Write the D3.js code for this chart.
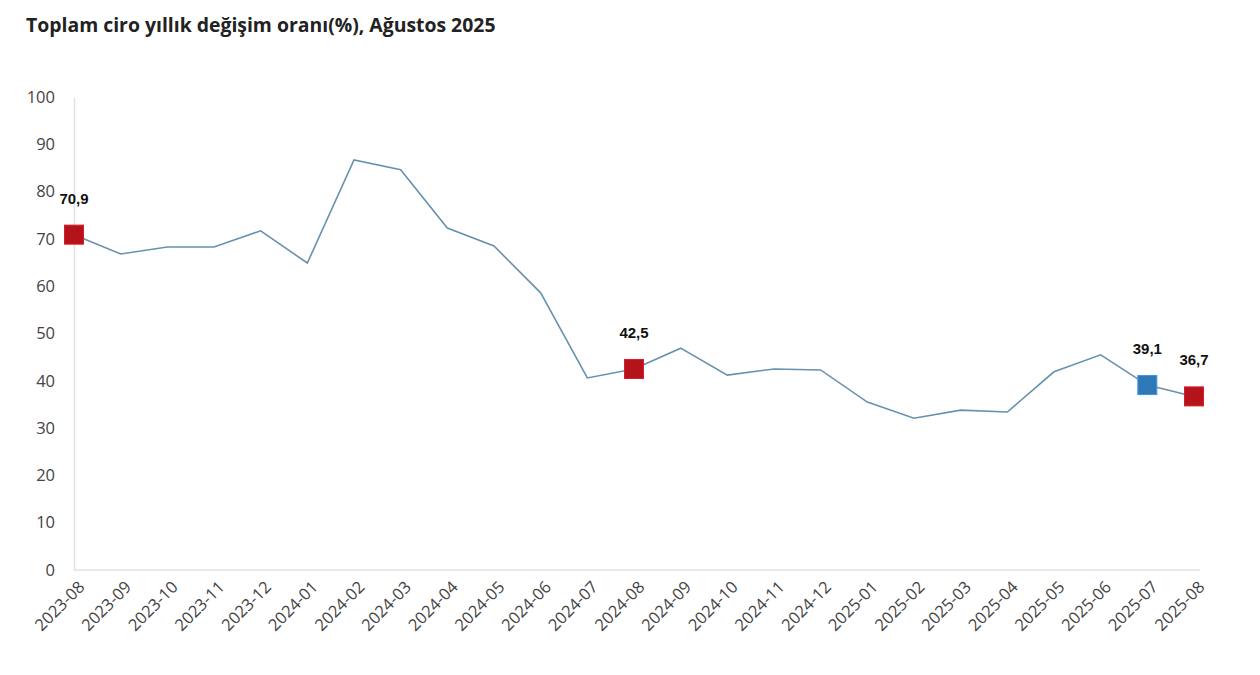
<!DOCTYPE html>
<html lang="tr">
<head>
<meta charset="UTF-8">
<title>Toplam ciro yıllık değişim oranı</title>
<script src="https://d3js.org/d3.v7.min.js"></script>
<style>
  body { margin: 0; background: #fff; }
  .title { font: bold 19.4px "Open Sans", sans-serif; fill: #222; }
  .tick text { font: 16.5px "Open Sans", sans-serif; fill: #444; }
  .lbl { font: bold 15px "Liberation Sans", Arial, sans-serif; fill: #111; }
</style>
</head>
<body>
<svg id="chart" width="1260" height="675"></svg>
<script>
// months on the x axis
const months = ["2023-08","2023-09","2023-10","2023-11","2023-12","2024-01","2024-02","2024-03",
  "2024-04","2024-05","2024-06","2024-07","2024-08","2024-09","2024-10","2024-11","2024-12",
  "2025-01","2025-02","2025-03","2025-04","2025-05","2025-06","2025-07","2025-08"];
// annual change (%)
const values = [70.9, 66.8, 68.3, 68.3, 71.7, 64.9, 86.7, 84.6, 72.3, 68.5, 58.6, 40.6, 42.5,
  46.9, 41.2, 42.5, 42.3, 35.5, 32.1, 33.8, 33.4, 41.9, 45.5, 39.1, 36.7];
const yTicks = [0, 10, 20, 30, 40, 50, 60, 70, 80, 90, 100];
// highlighted points: month, colour
const highlights = [
  {m: "2023-08", c: "#b3141c"},
  {m: "2024-08", c: "#b3141c"},
  {m: "2025-07", c: "#2f78b8"},
  {m: "2025-08", c: "#b3141c"}
];

const svg = d3.select("#chart");
const mLeft = 74, mRight = 1194, mTop = 97, mBottom = 570;

svg.append("text").attr("class", "title").attr("x", 26).attr("y", 32)
  .text("Toplam ciro yıllık değişim oranı(%), Ağustos 2025");

const x = d3.scalePoint().domain(months).range([mLeft, mRight]);
const y = d3.scaleLinear().domain([0, 100]).range([mBottom, mTop]);

// y axis
const ya = svg.append("g").attr("transform", `translate(${mLeft},0)`)
  .call(d3.axisLeft(y).tickValues(yTicks).tickSize(0).tickPadding(19));
ya.select(".domain").attr("stroke", "#e2e2e2").attr("stroke-width", 1.5);

// x axis
const xa = svg.append("g").attr("transform", `translate(0,${mBottom})`)
  .call(d3.axisBottom(x).tickSize(0));
xa.select(".domain").attr("stroke", "#e2e2e2").attr("stroke-width", 1.5).attr("d", `M${mLeft},0H1200`);
xa.selectAll(".tick text")
  .attr("text-anchor", "end")
  .attr("dy", 0)
  .attr("transform", "translate(9,16) rotate(-45)");

const data = months.map((m, i) => ({m, v: values[i]}));

svg.append("path").datum(data)
  .attr("fill", "none").attr("stroke", "#6792ad").attr("stroke-width", 1.6)
  .attr("d", d3.line().x(d => x(d.m)).y(d => y(d.v)));

const hs = highlights.map(h => ({...h, v: values[months.indexOf(h.m)]}));
const s = 19;
svg.selectAll("rect.mk").data(hs).join("rect").attr("class", "mk")
  .attr("x", d => x(d.m) - s / 2).attr("y", d => y(d.v) - s / 2)
  .attr("width", s).attr("height", s)
  .attr("fill", d => d.c).attr("stroke", d => d3.color(d.c).brighter(0.6)).attr("stroke-width", 1);

svg.selectAll("text.lbl").data(hs).join("text").attr("class", "lbl")
  .attr("x", d => x(d.m)).attr("y", d => y(d.v) - 31)
  .attr("text-anchor", "middle")
  .text(d => d3.format(".1f")(d.v).replace(".", ","));
</script>
</body>
</html>
